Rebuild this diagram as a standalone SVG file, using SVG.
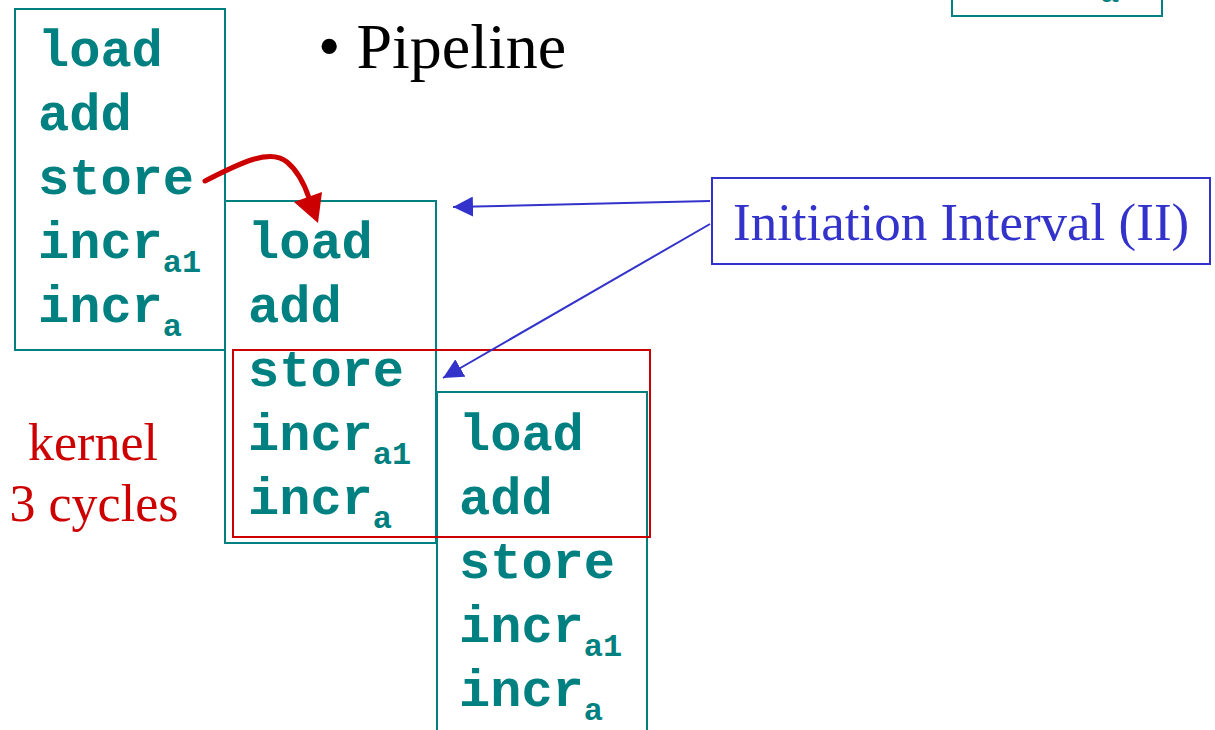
<svg xmlns="http://www.w3.org/2000/svg" width="1215" height="730" viewBox="0 0 1215 730">
  <style>
    .stage { fill: #ffffff; stroke: #008080; stroke-width: 2; }
    .code { font-family: "Liberation Mono", "Courier New", monospace; font-weight: bold; font-size: 52px; fill: #008080; }
    .sub { font-size: 32px; }
    .serif { font-family: "Liberation Serif", "Times New Roman", serif; }
    .kernel { fill: none; stroke: #cc0000; stroke-width: 2; }
    .blue-line { stroke: #3333cc; stroke-width: 2; fill: none; }
  </style>
  <defs>
    <marker id="blueHead" viewBox="0 0 20 20" refX="20" refY="10" markerWidth="20" markerHeight="20" markerUnits="userSpaceOnUse" orient="auto">
      <path d="M0,0 L20,10 L0,20 Z" fill="#3333cc"/>
    </marker>
  </defs>

  <rect width="1215" height="730" fill="#ffffff"/>

  <!-- iteration shown partly at the top right -->
  <g id="iter-top-right">
    <rect class="stage" x="952" y="-325" width="210" height="341"/>
    <text class="code sub" x="1100" y="2">a</text>
  </g>

  <!-- iteration 1 -->
  <g id="iter1">
    <rect class="stage" x="15" y="9" width="210" height="341"/>
    <text class="code" x="38" y="66">load</text>
    <text class="code" x="38" y="130">add</text>
    <text class="code" x="38" y="194">store</text>
    <text class="code" x="38" y="258">incr<tspan class="sub" dy="14">a1</tspan></text>
    <text class="code" x="38" y="322">incr<tspan class="sub" dy="14">a</tspan></text>
  </g>

  <!-- iteration 2 -->
  <g id="iter2">
    <rect class="stage" x="225" y="201" width="211" height="342"/>
    <text class="code" x="248" y="258">load</text>
    <text class="code" x="248" y="322">add</text>
    <text class="code" x="248" y="386">store</text>
    <text class="code" x="248" y="450">incr<tspan class="sub" dy="14">a1</tspan></text>
    <text class="code" x="248" y="514">incr<tspan class="sub" dy="14">a</tspan></text>
  </g>

  <!-- iteration 3 -->
  <g id="iter3">
    <rect class="stage" x="437" y="392" width="210" height="360"/>
    <text class="code" x="459" y="450">load</text>
    <text class="code" x="459" y="514">add</text>
    <text class="code" x="459" y="578">store</text>
    <text class="code" x="459" y="642">incr<tspan class="sub" dy="14">a1</tspan></text>
    <text class="code" x="459" y="706">incr<tspan class="sub" dy="14">a</tspan></text>
  </g>

  <!-- steady-state kernel window -->
  <g id="kernel">
    <rect class="kernel" x="233" y="350" width="417" height="187"/>
  </g>

  <g id="title">
    <text class="serif" x="318" y="68" font-size="64" fill="#000000">• Pipeline</text>
  </g>

  <g id="kernel-label">
    <text class="serif" x="93" y="460" font-size="52" fill="#cc0000" text-anchor="middle">kernel</text>
    <text class="serif" x="94" y="521" font-size="52" fill="#cc0000" text-anchor="middle">3 cycles</text>
  </g>

  <g id="ii-label">
    <rect x="712" y="178" width="498" height="86" fill="#ffffff" stroke="#3333cc" stroke-width="2"/>
    <text class="serif" x="733" y="240" font-size="53" fill="#3333cc">Initiation Interval (II)</text>
  </g>

  <g id="connectors">
    <!-- store of iteration 1 feeds load of iteration 2 -->
    <path d="M205,181 C240,163 270,148 287,162 C299,172 305,186 309,198" fill="none" stroke="#cc0000" stroke-width="5" stroke-linecap="round"/>
    <path d="M294,202 L322,192 L318,223 Z" fill="#cc0000"/>
    <!-- II pointers -->
    <line class="blue-line" x1="710" y1="201" x2="453" y2="207" marker-end="url(#blueHead)"/>
    <line class="blue-line" x1="710" y1="224" x2="443" y2="378" marker-end="url(#blueHead)"/>
  </g>
</svg>
